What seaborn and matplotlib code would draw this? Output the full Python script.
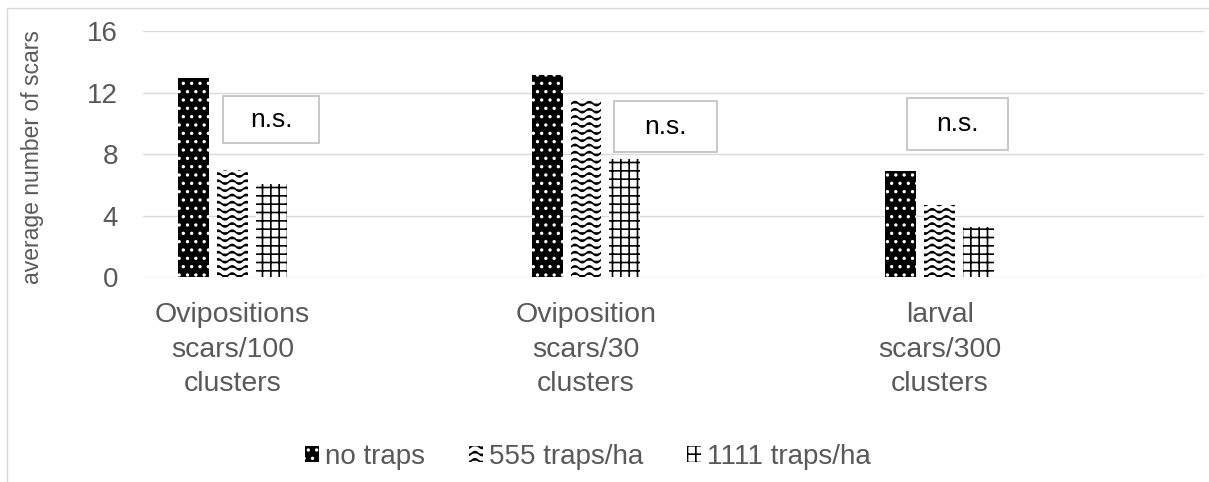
import warnings
import numpy as np
import pandas as pd
import matplotlib
matplotlib.use('Agg')
import matplotlib.pyplot as plt
import matplotlib.hatch as mhatch
from matplotlib.path import Path
from matplotlib.patches import Rectangle
import seaborn as sns

warnings.filterwarnings('ignore')

# datos
categorias = ['Ovipositions\nscars/100\nclusters',
              'Oviposition\nscars/30\nclusters',
              'larval\nscars/300\nclusters']
tratamientos = ['no traps', '555 traps/ha', '1111 traps/ha']
sin_trampas = [13.0, 13.2, 6.9]
trampas_555 = [7.0, 11.6, 4.7]
trampas_1111 = [6.1, 7.7, 3.3]

# cajas "n.s." (x0, x1, y0, y1) en coordenadas de datos
cajas_ns = [(-0.027, 0.245, 8.73, 11.79),
            (1.079, 1.371, 8.15, 11.46),
            (1.908, 2.194, 8.28, 11.66)]

gris = '#595959'


# trama ondulada propia (no existe en matplotlib)
class TramaOndulada(mhatch.HatchPatternBase):
    def __init__(self, hatch, density):
        self.num_lines = hatch.count('~') * 14
        self.npts = 85
        self.num_vertices = self.num_lines * self.npts

    def set_vertices_and_codes(self, vertices, codes):
        xs = np.linspace(0, 1, self.npts)
        for i in range(self.num_lines):
            y0 = (i + 0.5) / self.num_lines
            a = i * self.npts
            vertices[a:a + self.npts, 0] = xs
            vertices[a:a + self.npts, 1] = y0 + 0.02 * np.sin(2 * np.pi * 7 * xs)
            codes[a:a + self.npts] = Path.LINETO
            codes[a] = Path.MOVETO


mhatch._hatch_types.append(TramaOndulada)

sns.set_style('white')
plt.rcParams['font.family'] = ['Liberation Sans', 'DejaVu Sans']
plt.rcParams['hatch.linewidth'] = 1.2

df = pd.DataFrame({
    'categoria': categorias * 3,
    'tratamiento': np.repeat(tratamientos, 3),
    'valor': sin_trampas + trampas_555 + trampas_1111,
})

fig = plt.figure(figsize=(12.09, 4.82), dpi=100)
ax = fig.add_axes([0.1183, 0.4243, 0.8776, 0.5104])

sns.barplot(data=df, x='categoria', y='valor', hue='tratamiento',
            hue_order=tratamientos, order=categorias,
            palette=['black', 'white', 'white'], width=0.33, gap=0.205,
            errorbar=None, legend=False, ax=ax)

tramas = ['..', '~', '++']
bordes = ['white', 'black', 'black']
for cont, trama, borde in zip(ax.containers, tramas, bordes):
    for barra in cont.patches:
        barra.set_hatch(trama)
        barra.set_edgecolor(borde)
        barra.set_linewidth(0)

ax.set_xlim(-0.253, 2.748)
ax.set_ylim(0, 16)
ax.set_yticks([0, 4, 8, 12, 16])
ax.set_xlabel('')
ax.set_ylabel('average number of scars', fontsize=16.5, color=gris)
ax.yaxis.set_label_coords(-0.093, 0.49)
ax.grid(axis='y', color='#d9d9d9', linewidth=1.0)
ax.set_axisbelow(True)
sns.despine(ax=ax, left=True, bottom=True)
ax.tick_params(axis='y', length=0, labelsize=20, labelcolor=gris, pad=18)
ax.tick_params(axis='x', length=0, labelsize=20.5, labelcolor=gris, pad=18)
for t in ax.get_xticklabels():
    t.set_linespacing(1.42)

for x0, x1, y0, y1 in cajas_ns:
    ax.add_patch(Rectangle((x0, y0), x1 - x0, y1 - y0, facecolor='white',
                           edgecolor='#bfbfbf', linewidth=1.2, zorder=5))
    ax.text((x0 + x1) / 2, (y0 + y1) / 2, 'n.s.', fontsize=19, color='black',
            ha='center', va='center', zorder=6)

ax.legend(ax.containers, tratamientos, loc='center',
          bbox_to_anchor=(588 / 1209, 1 - 457 / 482), bbox_transform=fig.transFigure,
          ncol=3, frameon=False, fontsize=20, labelcolor=gris,
          handlelength=0.5, handleheight=0.5, handletextpad=0.2, columnspacing=1.6)

# borde del area del grafico
fig.add_artist(Rectangle((7 / 1209, -0.1), 2, 1.1 - 8 / 482, transform=fig.transFigure,
                         fill=False, edgecolor='#d9d9d9', linewidth=1.0))

fig.savefig('out.png', dpi=100)
